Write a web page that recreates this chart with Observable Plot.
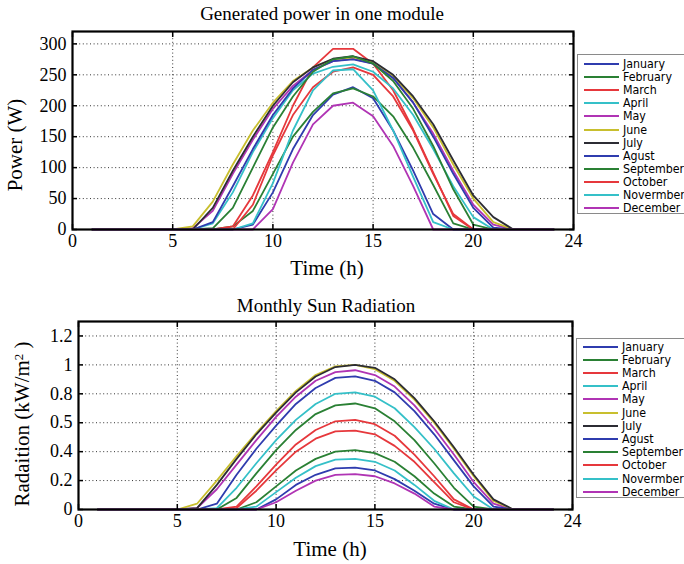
<!DOCTYPE html>
<html><head><meta charset="utf-8">
<script src="https://cdn.jsdelivr.net/npm/d3@7"></script>
<script src="https://cdn.jsdelivr.net/npm/@observablehq/plot@0.6"></script>
<style>
body{margin:0;background:#fff;}
#wrap{position:relative;width:684px;height:564px;overflow:hidden;font-family:"Liberation Serif","Times New Roman",serif;color:#000;}
.chart{position:absolute;left:0;}
.lbl{position:absolute;white-space:nowrap;line-height:1;}
.title{font-size:19px;transform:translate(-50%,-50%);}
.xlabel{font-size:21px;transform:translate(-50%,-50%);}
.ylabel{font-size:21px;transform:translate(-50%,-50%) rotate(-90deg);}
.legend{position:absolute;border:1px solid #8a8a8a;background:#fff;box-sizing:border-box;font-family:"DejaVu Sans Condensed","Liberation Sans Narrow","Liberation Sans",sans-serif;font-size:12.3px;}
.legend .row{position:absolute;left:0;height:13px;display:flex;align-items:center;white-space:nowrap;}
.legend .sw{display:inline-block;width:35px;height:0;border-top:2px solid;margin-left:6px;margin-right:4px;}
</style></head>
<body>
<div id="wrap"></div>
<script>
const months = ["January","February","March","April","May","June","July","Agust","September","October","Novermber","December"];
const colors = ["#2f3cae","#2a8034","#e6383c","#35c0c8","#b034b4","#c8bf2e","#2c2c34","#2f3cae","#2a8034","#e6383c","#35c0c8","#b034b4"];
const hours = [1,2,3,4,5,6,7,8,9,10,11,12,13,14,15,16,17,18,19,20,21,22,23,24];

const xTickPos = [0,5,10,15,20,25];
const xTickLabels = ["0","5","10","15","20","24"];
const powerTicks = [0,50,100,150,200,250,300];
const powerTickLabels = ["0","50","100","150","200","250","300"];
const radTicks = [0,0.2,0.4,0.6,0.8,1,1.2];
const radTickLabels = ["0","0.2","0.4","0.5","0.8","1","1.2"];

// Generated power (W), hours 1..24
const powerJan = [0,0,0,0,0,0,0,0,8,60,130,185,218,230,212,160,95,25,0,0,0,0,0,0];
const powerFeb = [0,0,0,0,0,0,0,5,30,90,150,190,220,228,215,183,132,72,10,0,0,0,0,0];
const powerMar = [0,0,0,0,0,0,0,5,55,125,200,262,292,292,268,225,162,92,22,0,0,0,0,0];
const powerApr = [0,0,0,0,0,0,10,60,125,180,225,252,263,267,255,228,185,130,70,20,0,0,0,0];
const powerMay = [0,0,0,0,0,2,30,90,145,195,232,258,272,276,268,245,205,155,95,40,8,0,0,0];
const powerJun = [0,0,0,0,0,5,45,105,160,205,240,262,275,278,270,248,212,165,105,50,12,0,0,0];
const powerJul = [0,0,0,0,0,0,35,95,150,200,238,262,276,280,272,250,215,170,112,55,20,0,0,0];
const powerAug = [0,0,0,0,0,0,12,70,130,185,228,258,272,275,268,245,205,150,90,35,3,0,0,0];
const powerSep = [0,0,0,0,0,0,2,35,100,165,215,255,275,280,268,240,195,135,65,8,0,0,0,0];
const powerOct = [0,0,0,0,0,0,0,0,40,120,185,230,255,262,250,215,160,90,25,0,0,0,0,0];
const powerNov = [0,0,0,0,0,0,0,0,10,75,160,225,257,259,225,160,85,12,0,0,0,0,0,0];
const powerDec = [0,0,0,0,0,0,0,0,0,33,108,170,200,205,183,135,70,0,0,0,0,0,0,0];

// Sun radiation (kW/m2), hours 1..24
const radJan = [0,0,0,0,0,0,0,0,0,0.07,0.17,0.24,0.285,0.29,0.27,0.21,0.13,0.04,0,0,0,0,0,0];
const radFeb = [0,0,0,0,0,0,0,0,0.05,0.16,0.27,0.35,0.4,0.41,0.39,0.33,0.23,0.11,0.02,0,0,0,0,0];
const radMar = [0,0,0,0,0,0,0,0.02,0.16,0.31,0.45,0.55,0.61,0.62,0.59,0.51,0.38,0.23,0.07,0,0,0,0,0];
const radApr = [0,0,0,0,0,0,0.01,0.15,0.32,0.48,0.62,0.73,0.8,0.81,0.78,0.7,0.57,0.42,0.25,0.09,0,0,0,0];
const radMay = [0,0,0,0,0,0.01,0.14,0.31,0.48,0.64,0.78,0.89,0.95,0.963,0.93,0.85,0.72,0.56,0.38,0.19,0.04,0,0,0];
const radJun = [0,0,0,0,0,0.04,0.2,0.37,0.53,0.68,0.82,0.93,0.99,1.0,0.97,0.89,0.76,0.6,0.42,0.23,0.06,0,0,0];
const radJul = [0,0,0,0,0,0.01,0.17,0.35,0.52,0.67,0.81,0.92,0.985,1.0,0.98,0.9,0.77,0.61,0.43,0.24,0.07,0,0,0];
const radAug = [0,0,0,0,0,0,0.04,0.24,0.42,0.58,0.73,0.84,0.91,0.92,0.89,0.81,0.68,0.52,0.34,0.16,0.02,0,0,0];
const radSep = [0,0,0,0,0,0,0,0.08,0.25,0.41,0.55,0.66,0.72,0.733,0.7,0.61,0.48,0.32,0.15,0.02,0,0,0,0];
const radOct = [0,0,0,0,0,0,0,0.01,0.13,0.27,0.4,0.49,0.54,0.545,0.52,0.44,0.33,0.19,0.05,0,0,0,0,0];
const radNov = [0,0,0,0,0,0,0,0,0.02,0.12,0.22,0.3,0.345,0.35,0.33,0.27,0.17,0.06,0,0,0,0,0,0];
const radDec = [0,0,0,0,0,0,0,0,0,0.05,0.13,0.2,0.24,0.245,0.23,0.18,0.11,0.02,0,0,0,0,0,0];

const powerSeries = [powerJan,powerFeb,powerMar,powerApr,powerMay,powerJun,powerJul,powerAug,powerSep,powerOct,powerNov,powerDec];
const radSeries = [radJan,radFeb,radMar,radApr,radMay,radJun,radJul,radAug,radSep,radOct,radNov,radDec];

function toRows(series) {
  const rows = [];
  series.forEach((vals, mi) => vals.forEach((v, hi) => rows.push({month: months[mi], hour: hours[hi], value: v})));
  return rows;
}

const wrap = document.getElementById("wrap");

function makeChart({rows, top, mL, mR, mT, mB, yDomain, yTicks, yLabels}) {
  const xMap = new Map(xTickPos.map((d, i) => [d, xTickLabels[i]]));
  const yMap = new Map(yTicks.map((d, i) => [d, yLabels[i]]));
  const dots = {stroke: "#000", strokeOpacity: 0.8, strokeDasharray: "1,2.6", strokeWidth: 1};
  const p = Plot.plot({
    width: 684, height: 282,
    marginLeft: mL, marginRight: mR, marginTop: mT, marginBottom: mB,
    style: {fontFamily: "'Liberation Serif','Times New Roman',serif", fontSize: "18px", color: "#000", background: "transparent", overflow: "visible"},
    x: {domain: [0, 25]},
    y: {domain: yDomain},
    color: {domain: months, range: colors},
    marks: [
      Plot.gridX(xTickPos.slice(1, -1), dots),
      Plot.gridY(yTicks.slice(1).filter(d => d < yDomain[1]), dots),
      Plot.line(rows, {x: "hour", y: "value", z: "month", stroke: "month", strokeWidth: 1.8}),
      Plot.axisX(xTickPos, {anchor: "bottom", tickSize: 0, tickPadding: 5, tickFormat: d => xMap.get(d), label: null, fontSize: 18}),
      Plot.axisX(xTickPos, {anchor: "bottom", tickSize: -5, tickFormat: () => "", label: null, strokeWidth: 1.5}),
      Plot.axisX(xTickPos, {anchor: "top", tickSize: -5, tickFormat: () => "", label: null, strokeWidth: 1.5}),
      Plot.axisY(yTicks, {anchor: "left", tickSize: 0, tickPadding: 6, tickFormat: d => yMap.get(d), label: null, fontSize: 18}),
      Plot.axisY(yTicks, {anchor: "left", tickSize: -5, tickFormat: () => "", label: null, strokeWidth: 1.5}),
      Plot.axisY(yTicks, {anchor: "right", tickSize: -5, tickFormat: () => "", label: null, strokeWidth: 1.5}),
      Plot.frame({stroke: "#000", strokeWidth: 2.2})
    ]
  });
  p.classList.add("chart");
  p.style.top = top + "px";
  wrap.appendChild(p);
}

function addLabel(cls, html, x, y) {
  const d = document.createElement("div");
  d.className = "lbl " + cls;
  d.innerHTML = html;
  d.style.left = x + "px";
  d.style.top = y + "px";
  wrap.appendChild(d);
}

function addLegend(left, top, height, first, step) {
  const box = document.createElement("div");
  box.className = "legend";
  box.style.left = left + "px";
  box.style.top = top + "px";
  box.style.width = (684 - left + 4) + "px";
  box.style.height = height + "px";
  months.forEach((m, i) => {
    const r = document.createElement("div");
    r.className = "row";
    r.style.top = (first + i * step - 6.5) + "px";
    const sw = document.createElement("span");
    sw.className = "sw";
    sw.style.borderTopColor = colors[i];
    const t = document.createElement("span");
    t.textContent = m;
    r.appendChild(sw); r.appendChild(t);
    box.appendChild(r);
  });
  wrap.appendChild(box);
}

makeChart({rows: toRows(powerSeries), top: 0, mL: 72, mR: 111, mT: 31, mB: 53, yDomain: [0, 320], yTicks: powerTicks, yLabels: powerTickLabels});
makeChart({rows: toRows(radSeries), top: 282, mL: 78, mR: 112, mT: 39, mB: 55, yDomain: [0, 1.3], yTicks: radTicks, yLabels: radTickLabels});

addLabel("title", "Generated power in one module", 322, 13);
addLabel("xlabel", "Time (h)", 327, 268);
addLabel("ylabel", "Power (W)", 15, 145);
addLabel("title", "Monthly Sun Radiation", 326, 305);
addLabel("xlabel", "Time (h)", 330, 549);
addLabel("ylabel", "Radaition (kW/m<sup style=\"font-size:13px;vertical-align:6px\">2</sup> )", 22, 424);

addLegend(577, 54, 160, 9, 13.1);
addLegend(576, 338, 160, 7.5, 13.2);
</script>
</body></html>
